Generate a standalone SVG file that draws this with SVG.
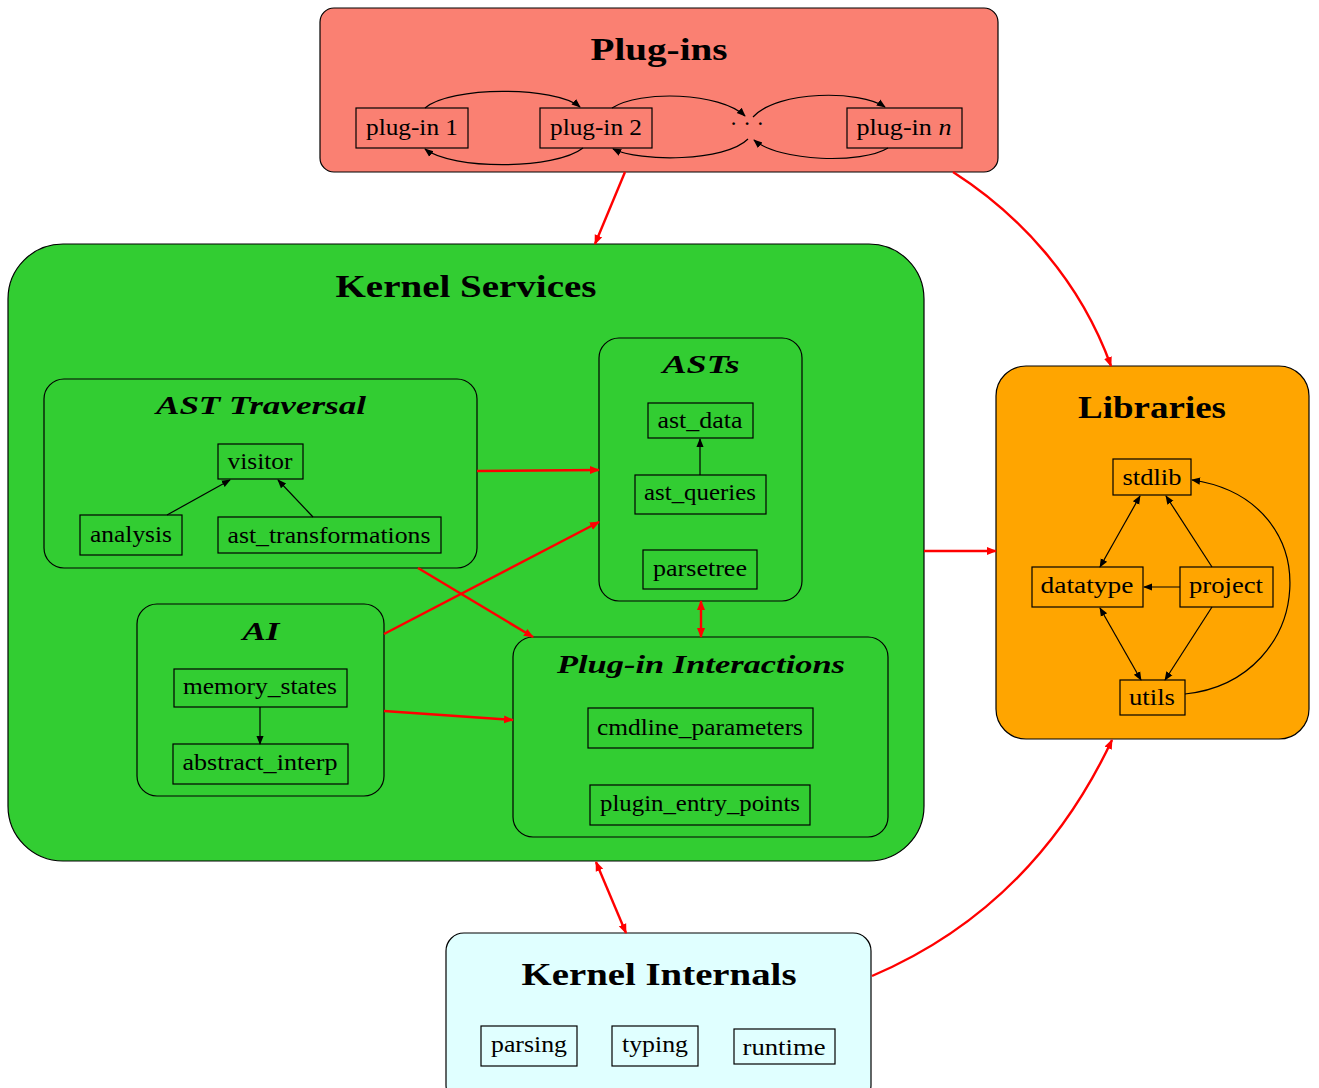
<svg xmlns="http://www.w3.org/2000/svg" width="1319" height="1088" viewBox="0 0 1319 1088">
<style>
text{font-family:"Liberation Serif","DejaVu Serif",serif;fill:#000;text-anchor:middle}
.t{font-size:23px}
.h{font-size:32px;font-weight:bold}
.s{font-size:26px;font-weight:bold;font-style:italic}
.c{stroke:#000;stroke-width:1.2}
.n{fill:none;stroke:#000;stroke-width:1.2}
.k{fill:none;stroke:#000;stroke-width:1.2}
.r{fill:none;stroke:#f00;stroke-width:2.4}
</style>
<defs>
<marker id="ab" viewBox="0 0 10 10" refX="9" refY="5" markerWidth="9" markerHeight="9" orient="auto-start-reverse" markerUnits="userSpaceOnUse"><path d="M0,1 L10,5 L0,9 z" fill="#000"/></marker>
<marker id="ar" viewBox="0 0 10 10" refX="9" refY="5" markerWidth="10" markerHeight="10" orient="auto-start-reverse" markerUnits="userSpaceOnUse"><path d="M0,1 L10,5 L0,9 z" fill="#f00"/></marker>
</defs>
<rect width="1319" height="1088" fill="#fff"/>

<g id="plugins">
<rect class="c" x="320" y="8" width="678" height="164" rx="14" fill="#FA8072"/>
<text class="h" x="659" y="60" textLength="137" lengthAdjust="spacingAndGlyphs">Plug-ins</text>
<g id="plugin1"><rect class="n" x="356" y="108" width="112" height="40"/><text class="t" x="412" y="135" textLength="92" lengthAdjust="spacingAndGlyphs">plug-in 1</text></g>
<g id="plugin2"><rect class="n" x="540" y="108" width="112" height="40"/><text class="t" x="596" y="135" textLength="92" lengthAdjust="spacingAndGlyphs">plug-in 2</text></g>
<g id="dots"><text class="t" x="747" y="131">· · ·</text></g>
<g id="pluginn"><rect class="n" x="847" y="108" width="115" height="40"/><text class="t" x="904" y="135" textLength="95" lengthAdjust="spacingAndGlyphs">plug-in <tspan font-style="italic">n</tspan></text></g>
</g>

<g id="kernel-services">
<rect class="c" x="8" y="244" width="916" height="617" rx="55" fill="#32CD32"/>
<text class="h" x="466" y="297" textLength="261" lengthAdjust="spacingAndGlyphs">Kernel Services</text>
</g>

<g id="ast-traversal">
<rect class="n" x="44" y="379" width="433" height="189" rx="20"/>
<text class="s" x="261" y="414" textLength="210" lengthAdjust="spacingAndGlyphs">AST Traversal</text>
<g id="visitor"><rect class="n" x="218" y="444" width="85" height="35"/><text class="t" x="260" y="469" textLength="65" lengthAdjust="spacingAndGlyphs">visitor</text></g>
<g id="analysis"><rect class="n" x="80" y="515" width="102" height="40"/><text class="t" x="131" y="542" textLength="82" lengthAdjust="spacingAndGlyphs">analysis</text></g>
<g id="ast_transformations"><rect class="n" x="218" y="517" width="223" height="36"/><text class="t" x="329" y="543" textLength="203" lengthAdjust="spacingAndGlyphs">ast_transformations</text></g>
</g>

<g id="asts">
<rect class="n" x="599" y="338" width="203" height="263" rx="20"/>
<text class="s" x="701" y="373" textLength="77" lengthAdjust="spacingAndGlyphs">ASTs</text>
<g id="ast_data"><rect class="n" x="648" y="403" width="105" height="35"/><text class="t" x="700" y="428" textLength="85" lengthAdjust="spacingAndGlyphs">ast_data</text></g>
<g id="ast_queries"><rect class="n" x="635" y="475" width="131" height="39"/><text class="t" x="700" y="500" textLength="112" lengthAdjust="spacingAndGlyphs">ast_queries</text></g>
<g id="parsetree"><rect class="n" x="643" y="550" width="114" height="39"/><text class="t" x="700" y="576" textLength="94" lengthAdjust="spacingAndGlyphs">parsetree</text></g>
</g>

<g id="ai">
<rect class="n" x="137" y="604" width="247" height="192" rx="20"/>
<text class="s" x="261" y="640" textLength="37" lengthAdjust="spacingAndGlyphs">AI</text>
<g id="memory_states"><rect class="n" x="174" y="669" width="173" height="38"/><text class="t" x="260" y="694" textLength="154" lengthAdjust="spacingAndGlyphs">memory_states</text></g>
<g id="abstract_interp"><rect class="n" x="173" y="744" width="175" height="40"/><text class="t" x="260" y="770" textLength="155" lengthAdjust="spacingAndGlyphs">abstract_interp</text></g>
</g>

<g id="plugin-interactions">
<rect class="n" x="513" y="637" width="375" height="200" rx="20"/>
<text class="s" x="701" y="673" textLength="288" lengthAdjust="spacingAndGlyphs">Plug-in Interactions</text>
<g id="cmdline_parameters"><rect class="n" x="588" y="708" width="225" height="40"/><text class="t" x="700" y="735" textLength="206" lengthAdjust="spacingAndGlyphs">cmdline_parameters</text></g>
<g id="plugin_entry_points"><rect class="n" x="590" y="785" width="220" height="40"/><text class="t" x="700" y="811" textLength="200" lengthAdjust="spacingAndGlyphs">plugin_entry_points</text></g>
</g>

<g id="libraries">
<rect class="c" x="996" y="366" width="313" height="373" rx="30" fill="#FFA500"/>
<text class="h" x="1152" y="418" textLength="148" lengthAdjust="spacingAndGlyphs">Libraries</text>
<g id="stdlib"><rect class="n" x="1113" y="459" width="78" height="36"/><text class="t" x="1152" y="485" textLength="59" lengthAdjust="spacingAndGlyphs">stdlib</text></g>
<g id="datatype"><rect class="n" x="1032" y="567" width="111" height="40"/><text class="t" x="1087" y="593" textLength="93" lengthAdjust="spacingAndGlyphs">datatype</text></g>
<g id="project"><rect class="n" x="1180" y="567" width="93" height="40"/><text class="t" x="1226" y="593" textLength="74" lengthAdjust="spacingAndGlyphs">project</text></g>
<g id="utils"><rect class="n" x="1120" y="680" width="65" height="35"/><text class="t" x="1152" y="705" textLength="46" lengthAdjust="spacingAndGlyphs">utils</text></g>
</g>

<g id="kernel-internals">
<rect class="c" x="446" y="933" width="425" height="170" rx="18" fill="#E0FFFF"/>
<text class="h" x="659" y="985" textLength="275" lengthAdjust="spacingAndGlyphs">Kernel Internals</text>
<g id="parsing"><rect class="n" x="481" y="1026" width="96" height="40"/><text class="t" x="529" y="1052" textLength="76" lengthAdjust="spacingAndGlyphs">parsing</text></g>
<g id="typing"><rect class="n" x="612" y="1026" width="86" height="40"/><text class="t" x="655" y="1052" textLength="66" lengthAdjust="spacingAndGlyphs">typing</text></g>
<g id="runtime"><rect class="n" x="734" y="1029" width="101" height="35"/><text class="t" x="784" y="1055" textLength="83" lengthAdjust="spacingAndGlyphs">runtime</text></g>
</g>

<g id="connectors">
<path class="k" marker-end="url(#ab)" d="M425,108 C450,86 555,86 580,107"/>
<path class="k" marker-end="url(#ab)" d="M583,148 C555,170 452,170 425,149"/>
<path class="k" marker-end="url(#ab)" d="M612,108 C640,90 720,92 745,116"/>
<path class="k" marker-end="url(#ab)" d="M748,139 C725,162 640,162 613,149"/>
<path class="k" marker-end="url(#ab)" d="M753,117 C778,90 860,90 885,107"/>
<path class="k" marker-end="url(#ab)" d="M888,148 C862,164 780,162 754,140"/>
<path class="k" marker-end="url(#ab)" d="M167,515 L230,480"/>
<path class="k" marker-end="url(#ab)" d="M313,517 L278,480"/>
<path class="k" marker-end="url(#ab)" d="M700,475 L700,439"/>
<path class="k" marker-end="url(#ab)" d="M260,707 L260,744"/>
<path class="k" marker-start="url(#ab)" marker-end="url(#ab)" d="M1140,496 L1100,567"/>
<path class="k" marker-end="url(#ab)" d="M1212,567 L1166,496"/>
<path class="k" marker-end="url(#ab)" d="M1180,587 L1144,587"/>
<path class="k" marker-start="url(#ab)" marker-end="url(#ab)" d="M1100,608 L1141,680"/>
<path class="k" marker-end="url(#ab)" d="M1212,607 L1165,680"/>
<path class="k" marker-end="url(#ab)" d="M1185,694 C1316,680 1331,500 1192,480"/>
<path class="r" marker-end="url(#ar)" d="M625,172 L595,244"/>
<path class="r" marker-end="url(#ar)" d="M953,172 C1020,215 1080,280 1111,366"/>
<path class="r" marker-end="url(#ar)" d="M924,551 L996,551"/>
<path class="r" marker-end="url(#ar)" d="M872,976 C980,930 1060,850 1112,740"/>
<path class="r" marker-start="url(#ar)" marker-end="url(#ar)" d="M596,862 L626,933"/>
<path class="r" marker-end="url(#ar)" d="M477,471 L599,470"/>
<path class="r" marker-end="url(#ar)" d="M418,568 L533,637"/>
<path class="r" marker-end="url(#ar)" d="M384,634 L599,522"/>
<path class="r" marker-end="url(#ar)" d="M384,711 L513,720"/>
<path class="r" marker-start="url(#ar)" marker-end="url(#ar)" d="M701,601 L701,637"/>
</g>
</svg>
